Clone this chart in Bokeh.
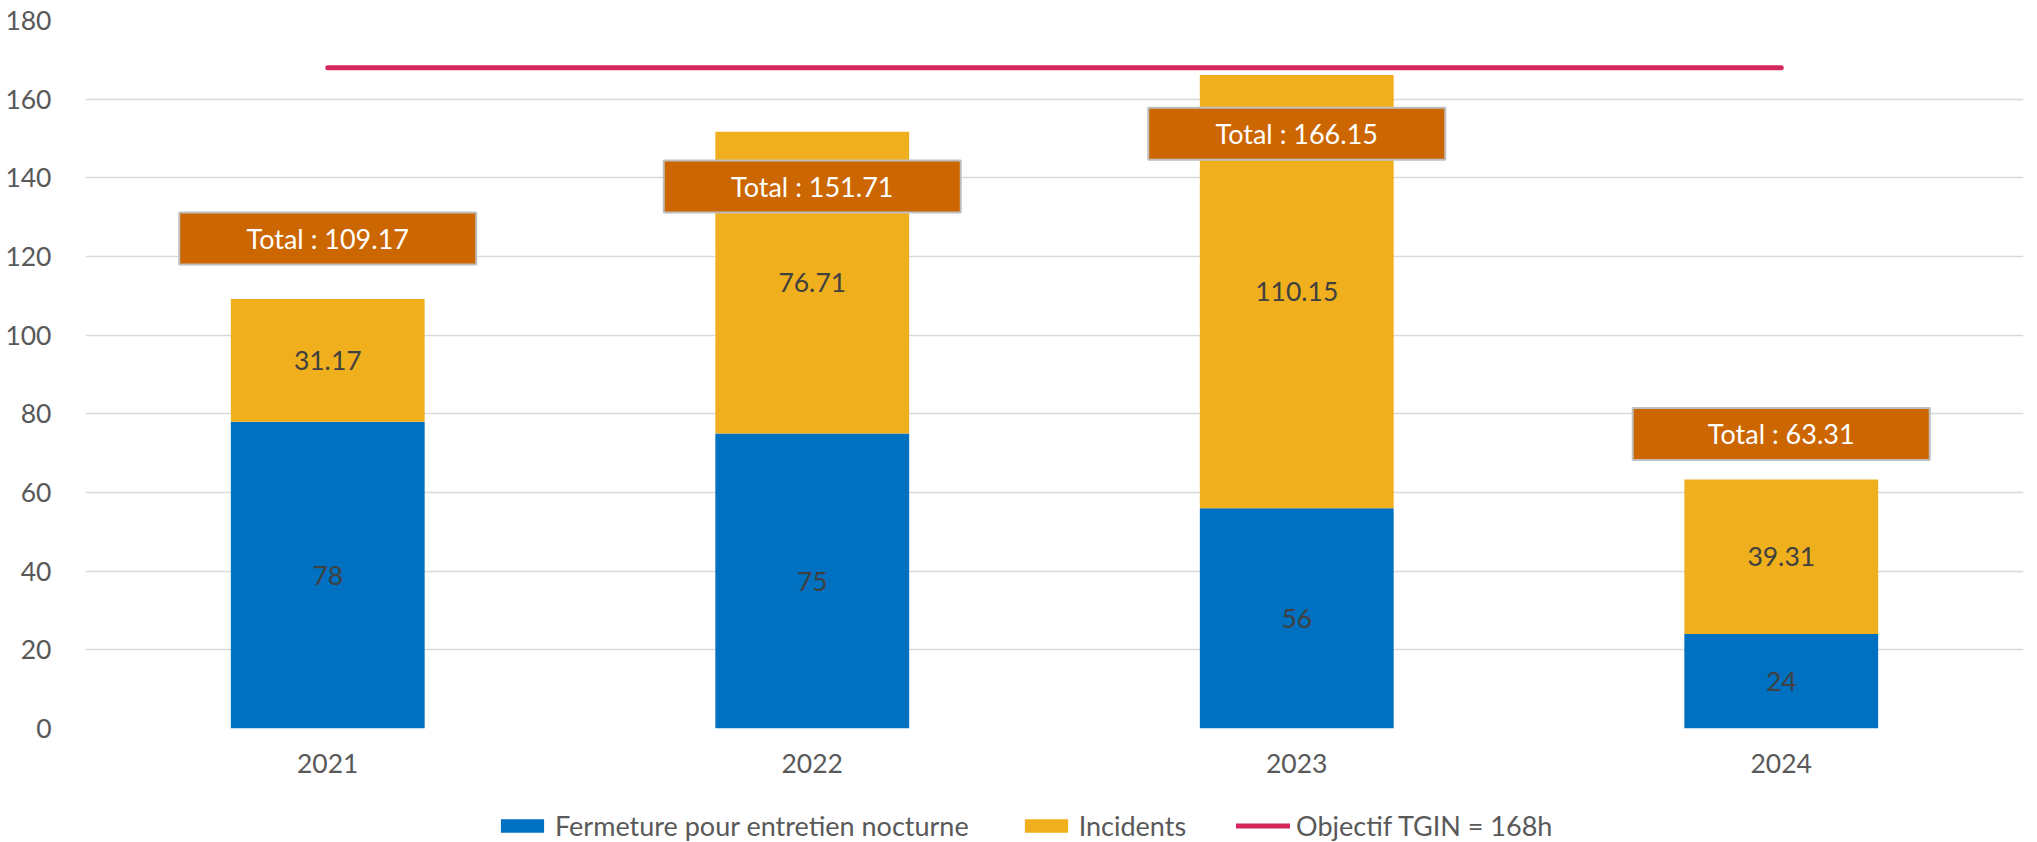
from bokeh.plotting import figure
from bokeh.models import ColumnDataSource, Legend, LegendItem, FactorRange, Range1d, FixedTicker
from bokeh.layouts import column
from bokeh.embed import file_html
from bokeh.resources import INLINE
from bokeh.core.properties import value

# ---------------- data ----------------
years = ["2021", "2022", "2023", "2024"]
fermeture = [78, 75, 56, 24]
incidents = [31.17, 76.71, 110.15, 39.31]
objectif = 168
y_ticks = [0, 20, 40, 60, 80, 100, 120, 140, 160, 180]
series_names = ["Fermeture pour entretien nocturne", "Incidents", "Objectif TGIN = 168h"]

# ---------------- layout / style ----------------
total_box_y = [124.6, 137.8, 151.2, 74.9]   # vertical position of the "Total" callouts
FONT = "Lato"
FS = "26.5px"
BLUE = "#0070C0"
YELLOW = "#F0AF1D"
BOX = "#CC6600"
RED = "#D5275B"

totals = [round(f + i, 2) for f, i in zip(fermeture, incidents)]
src = ColumnDataSource(dict(
    years=years,
    fermeture=fermeture,
    incidents=incidents,
    f_mid=[f / 2 for f in fermeture],
    i_mid=[f + i / 2 for f, i in zip(fermeture, incidents)],
    f_txt=[f"{v:g}" for v in fermeture],
    i_txt=[f"{v:g}" for v in incidents],
    box_y=total_box_y,
    tot_txt=[f"Total : {t:.2f}" for t in totals],
    obj=[objectif] * len(years),
))

p = figure(x_range=FactorRange(*years), y_range=Range1d(0, 180),
           width=2029, height=806, output_backend="svg", toolbar_location=None,
           min_border_left=85, min_border_right=6, min_border_top=20, min_border_bottom=78)
p.outline_line_color = None
p.background_fill_color = "white"

bars = p.vbar_stack(["fermeture", "incidents"], x="years", width=0.4,
                    color=[BLUE, YELLOW], line_color=None, source=src)

line = p.line(x="years", y="obj", source=src, line_color=RED, line_width=5, line_cap="round")

p.text(x="years", y="f_mid", text="f_txt", source=src, text_align="center",
       text_baseline="middle", text_font=value(FONT), text_font_size=FS, text_color="#404040")
p.text(x="years", y="i_mid", text="i_txt", source=src, text_align="center",
       text_baseline="middle", text_font=value(FONT), text_font_size=FS, text_color="#404040")

p.rect(x="years", y="box_y", width=297, height=52, width_units="screen", height_units="screen",
       fill_color=BOX, line_color="#BFBFBF", line_width=2, source=src)
p.text(x="years", y="box_y", text="tot_txt", source=src, text_align="center",
       text_baseline="middle", text_font=value(FONT), text_font_size="27px", text_color="white")

# axes
for ax in (p.xaxis, p.yaxis):
    ax.axis_line_color = None
    ax.major_tick_line_color = None
    ax.minor_tick_line_color = None
    ax.major_label_text_font = FONT
    ax.major_label_text_font_size = FS
    ax.major_label_text_color = "#595959"
p.yaxis.ticker = FixedTicker(ticks=y_ticks)
p.yaxis.major_label_standoff = 28
p.xaxis.major_label_standoff = 19
p.xgrid.grid_line_color = None
p.ygrid.ticker = FixedTicker(ticks=y_ticks)
p.ygrid.grid_line_color = "#D9D9D9"
p.ygrid.grid_line_width = 1.5

# ---------------- legend strip ----------------
lg = figure(width=2029, height=36, output_backend="svg", toolbar_location=None,
            x_range=Range1d(0, 1), y_range=Range1d(0, 1),
            x_axis_location=None, y_axis_location=None,
            min_border_left=0, min_border_right=0, min_border_top=0, min_border_bottom=0)
lg.outline_line_color = None
lg.xgrid.grid_line_color = None
lg.ygrid.grid_line_color = None
# swatch renderers for the legend (placed outside the strip's visible range)
sw_f = lg.vbar(x=[5], top=[6], bottom=[5], width=1, fill_color=BLUE, line_color=None)
sw_i = lg.vbar(x=[5], top=[6], bottom=[5], width=1, fill_color=YELLOW, line_color=None)
sw_o = lg.line(x=[5, 6], y=[5, 5], line_color=RED, line_width=5, line_cap="round")

legend = Legend(items=[
    LegendItem(label=series_names[0], renderers=[sw_f]),
    LegendItem(label=series_names[1], renderers=[sw_i]),
    LegendItem(label=series_names[2], renderers=[sw_o]),
], location=(410, 0), orientation="horizontal",
    glyph_width=54, glyph_height=17, label_standoff=6, spacing=50,
    padding=0, margin=0, border_line_color=None, background_fill_alpha=0,
    label_text_font=FONT, label_text_font_size="27px", label_text_color="#595959")
lg.add_layout(legend, "center")

open("out.html", "w").write(file_html(column(p, lg), INLINE))
